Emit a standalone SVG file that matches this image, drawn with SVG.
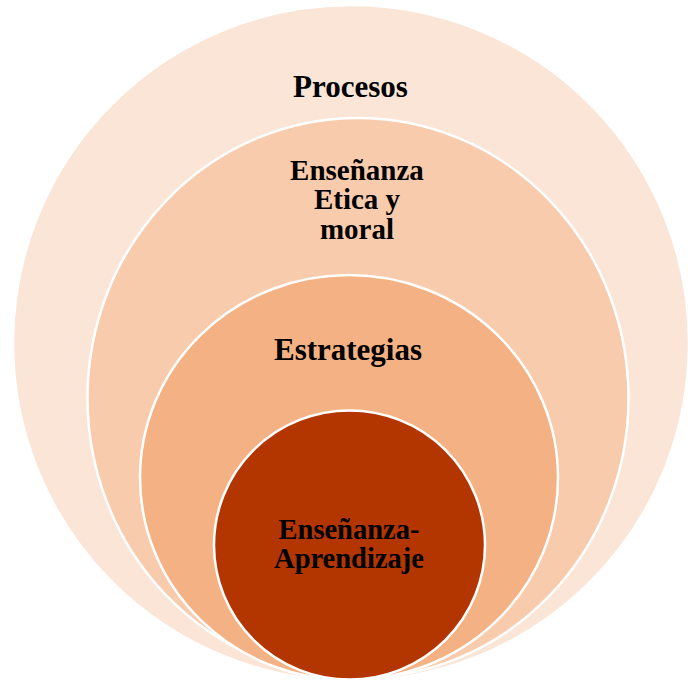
<svg xmlns="http://www.w3.org/2000/svg" width="699" height="683" viewBox="0 0 699 683">
  <style>
    .ring { stroke: #FFFFFF; stroke-width: 2.5; }
    .lbl { font-family: "Liberation Serif", "Times New Roman", serif; font-weight: bold; fill: #000000; text-anchor: middle; }
  </style>
  <rect width="699" height="683" fill="#FFFFFF"/>
  <g id="node-procesos">
    <ellipse class="ring" cx="351" cy="343" rx="338" ry="338" fill="#FAE5D7"/>
    <text class="lbl" x="350.5" y="97" font-size="31">Procesos</text>
  </g>
  <g id="node-etica">
    <ellipse class="ring" cx="358" cy="398" rx="270.5" ry="280" fill="#F8CBAD"/>
    <text class="lbl" x="357" y="179.5" font-size="29">Enseñanza</text>
    <text class="lbl" x="357" y="208.5" font-size="29">Etica y</text>
    <text class="lbl" x="357" y="238.5" font-size="29">moral</text>
  </g>
  <g id="node-estrategias">
    <ellipse class="ring" cx="349" cy="477.5" rx="209" ry="202.5" fill="#F4B183"/>
    <text class="lbl" x="348" y="360" font-size="31">Estrategias</text>
  </g>
  <g id="node-ensenanza-aprendizaje">
    <ellipse class="ring" cx="349.5" cy="545" rx="135.5" ry="134.5" fill="#B33500"/>
    <text class="lbl" x="349" y="539" font-size="28.5">Enseñanza-</text>
    <text class="lbl" x="349" y="568" font-size="28.5">Aprendizaje</text>
  </g>
  <g id="connectors"></g>
</svg>
